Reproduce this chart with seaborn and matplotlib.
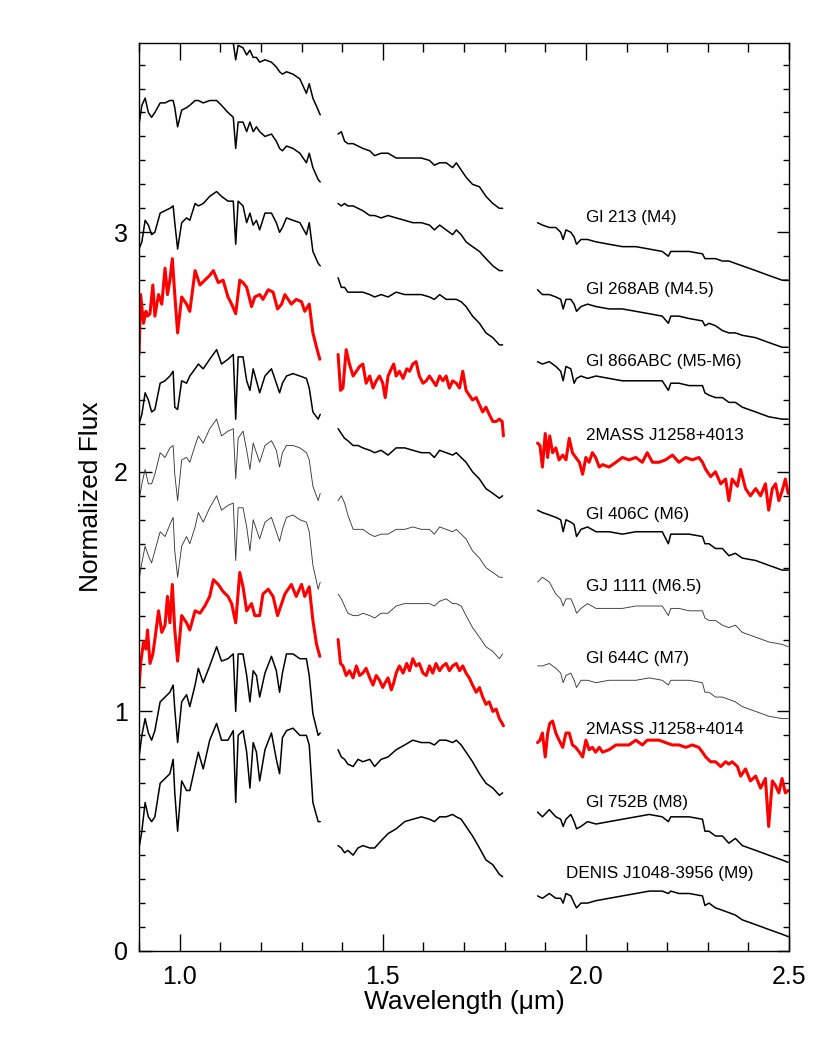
import matplotlib
matplotlib.use("Agg")
import matplotlib.pyplot as plt
import numpy as np
import pandas as pd
import seaborn as sns
from matplotlib.ticker import MultipleLocator, FormatStrFormatter

# ---------------- data (flux values as displayed, i.e. normalized flux + vertical offset) ----------------
stars = ["Gl 213 (M4)", "Gl 268AB (M4.5)", "Gl 866ABC (M5-M6)", "2MASS J1258+4013",
         "Gl 406C (M6)", "GJ 1111 (M6.5)", "Gl 644C (M7)", "2MASS J1258+4014",
         "Gl 752B (M8)", "DENIS J1048-3956 (M9)"]
kinds = ["black", "black", "black", "red", "black", "thin", "thin", "red", "black", "black"]

# wavelength grids (micron)
wl_J = [0.900, 0.907, 0.915, 0.923, 0.931, 0.939, 0.952, 0.964, 0.976, 0.984, 0.988, 0.995, 1.005, 1.017,
        1.025, 1.038, 1.046, 1.058, 1.074, 1.091, 1.103, 1.119, 1.132, 1.138, 1.144, 1.156, 1.165, 1.173,
        1.181, 1.189, 1.197, 1.210, 1.226, 1.238, 1.246, 1.253, 1.263, 1.279, 1.296, 1.312, 1.319, 1.328,
        1.341, 1.346]
wl_H = [1.390, 1.398, 1.406, 1.414, 1.427, 1.439, 1.451, 1.468, 1.480, 1.496, 1.513, 1.533, 1.554, 1.574,
        1.595, 1.615, 1.627, 1.640, 1.656, 1.672, 1.681, 1.693, 1.705, 1.721, 1.738, 1.754, 1.771, 1.787,
        1.795]
wl_K = [1.881, 1.893, 1.910, 1.926, 1.938, 1.944, 1.951, 1.963, 1.971, 1.977, 1.988, 2.004, 2.025, 2.057,
        2.090, 2.123, 2.156, 2.188, 2.203, 2.209, 2.229, 2.254, 2.287, 2.293, 2.303, 2.319, 2.336, 2.352,
        2.368, 2.385, 2.418, 2.450, 2.483, 2.498]
wl_J_red = [0.900, 0.904, 0.911, 0.917, 0.921, 0.927, 0.934, 0.939, 0.948, 0.956, 0.964, 0.970, 0.976,
            0.982, 0.988, 0.995, 1.005, 1.017, 1.025, 1.038, 1.050, 1.062, 1.074, 1.083, 1.095, 1.107,
            1.119, 1.128, 1.138, 1.148, 1.156, 1.165, 1.177, 1.185, 1.197, 1.205, 1.218, 1.230, 1.241,
            1.251, 1.259, 1.275, 1.287, 1.300, 1.308, 1.319, 1.328, 1.337, 1.345]
wl_H_red = [1.390, 1.396, 1.402, 1.410, 1.418, 1.427, 1.435, 1.443, 1.451, 1.459, 1.468, 1.476, 1.484,
            1.492, 1.500, 1.506, 1.513, 1.521, 1.527, 1.533, 1.541, 1.550, 1.559, 1.566, 1.574, 1.582,
            1.590, 1.599, 1.607, 1.615, 1.623, 1.631, 1.640, 1.648, 1.656, 1.664, 1.672, 1.681, 1.689,
            1.697, 1.705, 1.713, 1.721, 1.730, 1.738, 1.746, 1.754, 1.762, 1.771, 1.779, 1.787, 1.794,
            1.797]
wl_K_red = [1.881, 1.887, 1.893, 1.900, 1.906, 1.911, 1.918, 1.926, 1.934, 1.943, 1.951, 1.959, 1.967,
            1.975, 1.984, 1.992, 2.000, 2.008, 2.016, 2.024, 2.033, 2.041, 2.057, 2.074, 2.090, 2.106,
            2.123, 2.139, 2.151, 2.164, 2.180, 2.196, 2.213, 2.229, 2.246, 2.262, 2.278, 2.287, 2.295,
            2.307, 2.319, 2.332, 2.344, 2.352, 2.360, 2.373, 2.381, 2.393, 2.405, 2.418, 2.430, 2.442,
            2.450, 2.459, 2.467, 2.475, 2.483, 2.491, 2.498]

gl213_J = [3.84, 3.88, 3.91, 3.85, 3.83, 3.85, 3.89, 3.89, 3.90, 3.90, 3.87, 3.83, 3.86, 3.87, 3.88, 3.89,
           3.89, 3.88, 3.88, 3.87, 3.85, 3.82, 3.79, 3.72, 3.78, 3.77, 3.74, 3.76, 3.73, 3.73, 3.71, 3.72,
           3.71, 3.69, 3.67, 3.66, 3.67, 3.66, 3.64, 3.58, 3.62, 3.56, 3.51, 3.49]
gl213_H = [3.41, 3.42, 3.38, 3.37, 3.37, 3.36, 3.35, 3.34, 3.32, 3.33, 3.33, 3.31, 3.31, 3.31, 3.31, 3.30,
           3.28, 3.29, 3.29, 3.27, 3.29, 3.26, 3.23, 3.20, 3.19, 3.15, 3.12, 3.10, 3.10]
gl213_K = [3.04, 3.03, 3.02, 3.02, 3.00, 2.97, 3.01, 3.00, 2.98, 2.95, 2.97, 2.97, 2.96, 2.95, 2.94, 2.94,
           2.93, 2.92, 2.90, 2.92, 2.92, 2.92, 2.91, 2.89, 2.89, 2.89, 2.88, 2.88, 2.87, 2.86, 2.84, 2.82,
           2.80, 2.80]

gl268_J = [3.45, 3.53, 3.56, 3.50, 3.48, 3.50, 3.54, 3.54, 3.55, 3.55, 3.52, 3.44, 3.51, 3.52, 3.53, 3.55,
           3.55, 3.54, 3.55, 3.55, 3.53, 3.50, 3.48, 3.35, 3.46, 3.46, 3.42, 3.46, 3.42, 3.44, 3.42, 3.40,
           3.41, 3.38, 3.35, 3.34, 3.36, 3.35, 3.33, 3.29, 3.33, 3.27, 3.22, 3.21]
gl268_H = [3.12, 3.11, 3.12, 3.11, 3.11, 3.10, 3.09, 3.07, 3.07, 3.06, 3.07, 3.06, 3.05, 3.04, 3.04, 3.03,
           3.01, 3.03, 3.01, 2.99, 3.01, 2.99, 2.96, 2.94, 2.92, 2.89, 2.86, 2.84, 2.84]
gl268_K = [2.76, 2.74, 2.74, 2.73, 2.72, 2.68, 2.72, 2.72, 2.70, 2.67, 2.69, 2.70, 2.69, 2.68, 2.68, 2.67,
           2.66, 2.65, 2.62, 2.65, 2.65, 2.64, 2.63, 2.61, 2.62, 2.61, 2.59, 2.58, 2.58, 2.57, 2.56, 2.54,
           2.52, 2.52]

gl866_J = [2.93, 2.96, 3.05, 3.03, 2.99, 3.00, 3.08, 3.09, 3.10, 3.11, 3.04, 2.93, 3.04, 3.06, 3.05, 3.12,
           3.11, 3.12, 3.15, 3.17, 3.15, 3.13, 3.13, 2.95, 3.13, 3.11, 3.04, 3.08, 3.03, 3.05, 3.01, 3.08,
           3.08, 3.04, 3.00, 3.02, 3.06, 3.05, 3.04, 2.99, 3.04, 2.92, 2.87, 2.86]
gl866_H = [2.81, 2.77, 2.77, 2.75, 2.75, 2.75, 2.75, 2.74, 2.73, 2.74, 2.73, 2.75, 2.74, 2.74, 2.74, 2.73,
           2.72, 2.74, 2.72, 2.72, 2.72, 2.71, 2.69, 2.65, 2.62, 2.58, 2.56, 2.53, 2.53]
gl866_K = [2.46, 2.45, 2.46, 2.44, 2.42, 2.38, 2.44, 2.43, 2.37, 2.39, 2.40, 2.39, 2.40, 2.39, 2.38, 2.38,
           2.38, 2.38, 2.34, 2.37, 2.37, 2.36, 2.36, 2.33, 2.32, 2.31, 2.31, 2.29, 2.29, 2.27, 2.25, 2.23,
           2.22, 2.22]

j4013_J = [2.49, 2.74, 2.62, 2.67, 2.65, 2.66, 2.78, 2.65, 2.74, 2.70, 2.85, 2.74, 2.80, 2.89, 2.74, 2.58,
           2.73, 2.70, 2.67, 2.84, 2.78, 2.80, 2.82, 2.84, 2.79, 2.80, 2.73, 2.70, 2.66, 2.80, 2.79, 2.77,
           2.69, 2.73, 2.74, 2.72, 2.76, 2.75, 2.68, 2.70, 2.74, 2.70, 2.72, 2.71, 2.67, 2.70, 2.58, 2.52,
           2.47]
j4013_H = [2.49, 2.34, 2.35, 2.51, 2.45, 2.40, 2.42, 2.44, 2.45, 2.37, 2.40, 2.35, 2.38, 2.40, 2.37, 2.31,
           2.40, 2.43, 2.45, 2.40, 2.42, 2.39, 2.43, 2.42, 2.45, 2.46, 2.40, 2.37, 2.38, 2.40, 2.38, 2.36,
           2.40, 2.38, 2.40, 2.35, 2.38, 2.37, 2.35, 2.42, 2.34, 2.32, 2.30, 2.31, 2.28, 2.25, 2.27, 2.24,
           2.21, 2.21, 2.22, 2.21, 2.15]
j4013_K = [2.12, 2.11, 2.02, 2.16, 2.06, 2.15, 2.08, 2.10, 2.05, 2.07, 2.05, 2.14, 2.08, 2.06, 2.04, 1.99,
           2.06, 2.04, 2.08, 2.06, 2.02, 2.03, 2.02, 2.04, 2.06, 2.05, 2.06, 2.04, 2.08, 2.04, 2.04, 2.05,
           2.07, 2.04, 2.06, 2.05, 2.06, 2.04, 2.01, 1.98, 2.00, 1.95, 1.97, 1.88, 1.97, 1.94, 2.01, 1.93,
           1.90, 1.93, 1.90, 1.95, 1.84, 1.93, 1.95, 1.88, 1.92, 1.97, 1.91]

gl406_J = [2.20, 2.24, 2.33, 2.30, 2.25, 2.26, 2.37, 2.38, 2.40, 2.42, 2.27, 2.26, 2.38, 2.37, 2.40, 2.43,
           2.45, 2.43, 2.47, 2.51, 2.45, 2.47, 2.49, 2.22, 2.48, 2.48, 2.38, 2.34, 2.43, 2.38, 2.33, 2.40,
           2.43, 2.37, 2.33, 2.37, 2.40, 2.41, 2.40, 2.39, 2.35, 2.25, 2.22, 2.24]
gl406_H = [2.18, 2.16, 2.14, 2.13, 2.11, 2.11, 2.10, 2.09, 2.08, 2.09, 2.07, 2.10, 2.10, 2.09, 2.08, 2.08,
           2.06, 2.09, 2.08, 2.07, 2.08, 2.06, 2.04, 2.00, 1.97, 1.93, 1.91, 1.89, 1.90]
gl406_K = [1.84, 1.83, 1.82, 1.81, 1.80, 1.75, 1.80, 1.79, 1.78, 1.73, 1.76, 1.77, 1.75, 1.75, 1.74, 1.75,
           1.75, 1.75, 1.70, 1.74, 1.74, 1.74, 1.73, 1.70, 1.70, 1.68, 1.68, 1.65, 1.66, 1.64, 1.63, 1.61,
           1.59, 1.59]

gj1111_J = [1.88, 1.95, 2.01, 1.95, 1.95, 1.99, 2.08, 2.06, 2.10, 2.11, 1.99, 1.88, 2.05, 2.06, 2.04, 2.11,
            2.15, 2.12, 2.18, 2.22, 2.15, 2.17, 2.18, 1.97, 2.14, 2.17, 2.09, 2.01, 2.12, 2.08, 2.04, 2.11,
            2.13, 2.09, 2.02, 2.08, 2.11, 2.11, 2.10, 2.08, 2.05, 1.94, 1.88, 1.91]
gj1111_H = [1.88, 1.90, 1.87, 1.82, 1.76, 1.76, 1.76, 1.74, 1.73, 1.74, 1.74, 1.76, 1.76, 1.77, 1.76, 1.76,
            1.74, 1.77, 1.76, 1.75, 1.76, 1.74, 1.72, 1.67, 1.64, 1.60, 1.58, 1.56, 1.56]
gj1111_K = [1.54, 1.56, 1.54, 1.49, 1.47, 1.44, 1.47, 1.47, 1.44, 1.41, 1.43, 1.45, 1.43, 1.43, 1.43, 1.44,
            1.44, 1.44, 1.40, 1.43, 1.43, 1.42, 1.42, 1.39, 1.38, 1.38, 1.36, 1.35, 1.36, 1.33, 1.31, 1.29,
            1.28, 1.27]

gl644_J = [1.55, 1.62, 1.69, 1.65, 1.62, 1.67, 1.75, 1.73, 1.78, 1.81, 1.67, 1.56, 1.69, 1.73, 1.70, 1.77,
           1.83, 1.79, 1.85, 1.90, 1.84, 1.86, 1.87, 1.63, 1.85, 1.85, 1.77, 1.67, 1.80, 1.76, 1.72, 1.79,
           1.81, 1.75, 1.71, 1.76, 1.81, 1.82, 1.80, 1.79, 1.75, 1.61, 1.51, 1.54]
gl644_H = [1.49, 1.47, 1.44, 1.41, 1.40, 1.40, 1.41, 1.40, 1.39, 1.41, 1.41, 1.44, 1.45, 1.45, 1.45, 1.45,
           1.44, 1.46, 1.47, 1.45, 1.45, 1.44, 1.40, 1.35, 1.31, 1.27, 1.25, 1.22, 1.24]
gl644_K = [1.19, 1.19, 1.20, 1.18, 1.16, 1.12, 1.15, 1.16, 1.13, 1.10, 1.13, 1.13, 1.12, 1.13, 1.13, 1.13,
           1.14, 1.13, 1.11, 1.13, 1.13, 1.13, 1.12, 1.08, 1.08, 1.06, 1.06, 1.05, 1.04, 1.02, 1.00, 0.98,
           0.97, 0.97]

j4014_J = [1.10, 1.20, 1.29, 1.26, 1.34, 1.20, 1.24, 1.30, 1.42, 1.33, 1.36, 1.48, 1.37, 1.53, 1.34, 1.21,
           1.40, 1.37, 1.34, 1.42, 1.41, 1.44, 1.48, 1.55, 1.53, 1.50, 1.48, 1.45, 1.37, 1.58, 1.52, 1.42,
           1.45, 1.40, 1.40, 1.49, 1.51, 1.48, 1.40, 1.45, 1.49, 1.53, 1.48, 1.53, 1.48, 1.52, 1.38, 1.28,
           1.23]
j4014_H = [1.30, 1.20, 1.19, 1.15, 1.17, 1.14, 1.19, 1.15, 1.16, 1.18, 1.14, 1.11, 1.15, 1.13, 1.10, 1.12,
           1.14, 1.09, 1.12, 1.16, 1.19, 1.16, 1.20, 1.17, 1.22, 1.19, 1.20, 1.16, 1.15, 1.19, 1.16, 1.20,
           1.17, 1.19, 1.20, 1.17, 1.19, 1.20, 1.17, 1.19, 1.16, 1.14, 1.11, 1.08, 1.10, 1.06, 1.03, 1.04,
           1.00, 1.01, 0.97, 0.95, 0.94]
j4014_K = [0.87, 0.88, 0.91, 0.81, 0.91, 0.95, 0.96, 0.91, 0.88, 0.85, 0.91, 0.91, 0.86, 0.85, 0.83, 0.81,
           0.88, 0.84, 0.85, 0.83, 0.85, 0.83, 0.84, 0.86, 0.86, 0.86, 0.88, 0.86, 0.88, 0.88, 0.88, 0.87,
           0.86, 0.86, 0.85, 0.86, 0.85, 0.83, 0.81, 0.79, 0.79, 0.77, 0.79, 0.78, 0.79, 0.77, 0.73, 0.76,
           0.71, 0.73, 0.68, 0.72, 0.52, 0.71, 0.69, 0.66, 0.72, 0.66, 0.67]

gl752_J = [0.81, 0.90, 0.97, 0.91, 0.88, 0.92, 1.04, 1.06, 1.08, 1.11, 1.01, 0.87, 1.04, 1.07, 1.02, 1.11,
           1.18, 1.12, 1.19, 1.27, 1.21, 1.22, 1.24, 1.00, 1.24, 1.24, 1.15, 1.04, 1.17, 1.15, 1.06, 1.16,
           1.23, 1.17, 1.08, 1.16, 1.24, 1.24, 1.22, 1.22, 1.15, 0.99, 0.90, 0.91]
gl752_H = [0.84, 0.81, 0.80, 0.78, 0.77, 0.80, 0.79, 0.80, 0.77, 0.80, 0.81, 0.84, 0.86, 0.88, 0.87, 0.87,
           0.86, 0.88, 0.88, 0.87, 0.88, 0.86, 0.83, 0.79, 0.74, 0.70, 0.68, 0.65, 0.66]
gl752_K = [0.58, 0.56, 0.59, 0.56, 0.55, 0.52, 0.55, 0.57, 0.54, 0.51, 0.52, 0.54, 0.53, 0.54, 0.55, 0.56,
           0.57, 0.56, 0.54, 0.56, 0.56, 0.56, 0.55, 0.50, 0.50, 0.48, 0.48, 0.45, 0.47, 0.44, 0.42, 0.40,
           0.38, 0.37]

denis_J = [0.43, 0.50, 0.62, 0.56, 0.54, 0.56, 0.70, 0.72, 0.74, 0.80, 0.66, 0.50, 0.71, 0.67, 0.67, 0.77,
           0.83, 0.76, 0.88, 0.95, 0.88, 0.88, 0.92, 0.62, 0.90, 0.92, 0.83, 0.68, 0.87, 0.83, 0.71, 0.84,
           0.91, 0.80, 0.74, 0.89, 0.92, 0.93, 0.90, 0.90, 0.86, 0.62, 0.54, 0.54]
denis_H = [0.44, 0.43, 0.41, 0.42, 0.40, 0.43, 0.44, 0.43, 0.43, 0.46, 0.49, 0.51, 0.54, 0.55, 0.56, 0.55,
           0.54, 0.56, 0.56, 0.57, 0.56, 0.55, 0.52, 0.48, 0.43, 0.38, 0.36, 0.32, 0.31]
denis_K = [0.23, 0.22, 0.24, 0.22, 0.22, 0.20, 0.24, 0.23, 0.20, 0.18, 0.20, 0.20, 0.21, 0.22, 0.23, 0.24,
           0.25, 0.25, 0.24, 0.25, 0.24, 0.24, 0.23, 0.19, 0.20, 0.18, 0.17, 0.16, 0.15, 0.13, 0.11, 0.09,
           0.07, 0.06]

spectra = [(gl213_J, gl213_H, gl213_K), (gl268_J, gl268_H, gl268_K), (gl866_J, gl866_H, gl866_K),
           (j4013_J, j4013_H, j4013_K), (gl406_J, gl406_H, gl406_K), (gj1111_J, gj1111_H, gj1111_K),
           (gl644_J, gl644_H, gl644_K), (j4014_J, j4014_H, j4014_K), (gl752_J, gl752_H, gl752_K),
           (denis_J, denis_H, denis_K)]

# label anchor points (data coords)
label_x = [2.0, 2.0, 2.0, 2.0, 2.0, 2.0, 2.0, 2.0, 2.0, 1.95]
label_y = [3.06, 2.76, 2.46, 2.15, 1.82, 1.52, 1.22, 0.925, 0.62, 0.325]

# ---------------- build long table ----------------
rows = []
for name, kind, (fj, fh, fk) in zip(stars, kinds, spectra):
    if kind == "red":
        grids = (wl_J_red, wl_H_red, wl_K_red)
    else:
        grids = (wl_J, wl_H, wl_K)
    for band, g, f in zip("JHK", grids, (fj, fh, fk)):
        assert len(g) == len(f), (name, band, len(g), len(f))
        for w, v in zip(g, f):
            rows.append((name, band, w, v))
df = pd.DataFrame(rows, columns=["star", "band", "wavelength", "flux"])

# ---------------- plot ----------------
sns.set_style("ticks")
plt.rcParams["font.family"] = ["Liberation Sans", "DejaVu Sans"]
plt.rcParams["text.color"] = "black"
plt.rcParams["axes.labelcolor"] = "black"
plt.rcParams["xtick.color"] = "black"
plt.rcParams["ytick.color"] = "black"

fig = plt.figure(figsize=(8.30, 10.39), dpi=100)
ax = fig.add_axes([0.1675, 0.0847, 0.7831, 0.8739])

style = {"black": dict(color="black", linewidth=1.1),
         "red": dict(color="#ff0000", linewidth=2.2),
         "thin": dict(color="#3a3a3a", linewidth=0.65)}

for name, kind in zip(stars, kinds):
    sub = df[df["star"] == name]
    sns.lineplot(data=sub, x="wavelength", y="flux", units="band", estimator=None, sort=False,
                 ax=ax, legend=False, **style[kind])

for name, x, y in zip(stars, label_x, label_y):
    ax.text(x, y, name, fontsize=12.3, ha="left", va="center", color="black")

ax.set_xlim(0.9, 2.5)
ax.set_ylim(0.0, 3.79)
ax.xaxis.set_major_locator(MultipleLocator(0.5))
ax.xaxis.set_minor_locator(MultipleLocator(0.1))
ax.yaxis.set_major_locator(MultipleLocator(1))
ax.yaxis.set_minor_locator(MultipleLocator(0.1))
ax.xaxis.set_major_formatter(FormatStrFormatter("%.1f"))
ax.yaxis.set_major_formatter(FormatStrFormatter("%d"))

ax.tick_params(which="both", direction="in", top=True, right=True, width=1.0, colors="black")
ax.tick_params(axis="x", which="major", length=12.5, pad=10, labelsize=18)
ax.tick_params(axis="x", which="minor", length=6.5)
ax.tick_params(axis="y", which="major", length=9, pad=8, labelsize=18)
ax.tick_params(axis="y", which="minor", length=4)
for s in ax.spines.values():
    s.set_linewidth(1.0)
    s.set_color("black")

ax.set_xlabel("Wavelength (μm)", fontsize=19, labelpad=1, color="black")
ax.set_ylabel("Normalized Flux", fontsize=19, labelpad=8, color="black")

fig.savefig("out.png", dpi=100)
